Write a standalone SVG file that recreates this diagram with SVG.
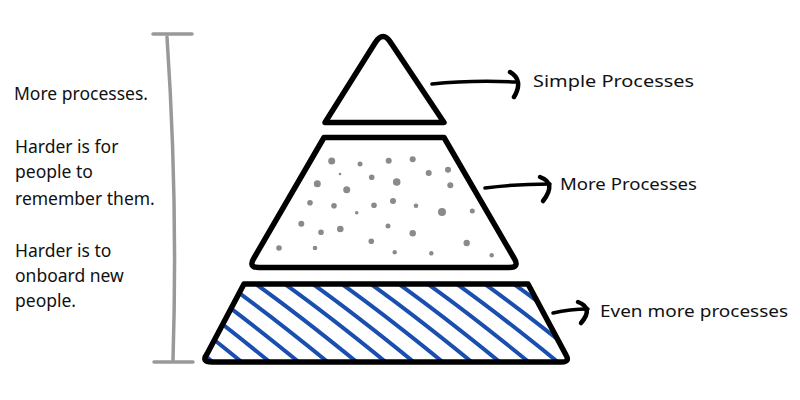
<svg xmlns="http://www.w3.org/2000/svg" width="800" height="400" viewBox="0 0 800 400">
<style>
.tier{fill:#fff;stroke:#000;stroke-width:5.5;stroke-linejoin:round}
.dot{fill:#8a8a8a}
.hatch{stroke:#1a4fb0;stroke-width:4;stroke-linecap:round;fill:none}
.txt{font-family:"Noto Sans","DejaVu Sans",sans-serif;font-size:17.5px;fill:#111}
.lbl{font-family:"Noto Sans","DejaVu Sans",sans-serif;font-size:16px;fill:#111}
.arr{stroke:#000;stroke-width:3.5;fill:none;stroke-linecap:round;stroke-linejoin:round}
.head{stroke:#000;stroke-width:4.5;fill:none;stroke-linecap:round}
.br{stroke:#999;stroke-width:3.5;fill:none;stroke-linecap:round}
</style>
<defs>
<clipPath id="clipBottom">
<path d="M244,284 L528,284 L566,355 Q570,362 562,362 L212,362 Q201,362 207,354 Z"/>
</clipPath>
</defs>
<rect width="800" height="400" fill="#fff"/>

<g id="bracket">
<path class="br" d="M153,34 L192,34"/>
<path class="br" d="M167,37 Q178,200 173,360"/>
<path class="br" d="M154,362 L193,362"/>
</g>

<g id="left-text" class="txt">
<text x="14" y="100">More processes.</text>
<text x="15" y="153">Harder is for</text>
<text x="15" y="178">people to</text>
<text x="15" y="205">remember them.</text>
<text x="15" y="257">Harder is to</text>
<text x="15" y="282">onboard new</text>
<text x="15" y="307">people.</text>
</g>

<g id="tier-top">
<path class="tier" d="M325,122.5 L375,43 Q383,30 391,43 L444,122.5 Z"/>
</g>

<g id="tier-middle">
<path class="tier" d="M324,137.5 L444,137.5 L514,258 Q520,267.5 509,267.5 L259,267.5 Q248,267.5 254,258 Z"/>
<g class="dot">
<circle cx="331.7" cy="161" r="3.5"/><circle cx="360" cy="164" r="2.5"/><circle cx="388.7" cy="160.7" r="3"/><circle cx="412.7" cy="159.3" r="3"/>
<circle cx="340" cy="174" r="1.3"/><circle cx="371.7" cy="177.3" r="2.8"/><circle cx="428.7" cy="173" r="3"/><circle cx="448" cy="169.7" r="3"/>
<circle cx="317.3" cy="183.7" r="3.5"/><circle cx="346.7" cy="189.7" r="3.5"/><circle cx="396.7" cy="182" r="3.8"/><circle cx="450.3" cy="185.3" r="3"/>
<circle cx="310" cy="202.7" r="2.8"/><circle cx="334" cy="205.7" r="2.8"/><circle cx="356.7" cy="212.7" r="1.8"/><circle cx="374" cy="205.3" r="2.8"/>
<circle cx="393" cy="201" r="3"/><circle cx="416" cy="205.7" r="2.3"/><circle cx="442" cy="212" r="4"/><circle cx="472.3" cy="211" r="2.5"/>
<circle cx="301.3" cy="223.7" r="3"/><circle cx="321" cy="232.3" r="2.8"/><circle cx="340.3" cy="229" r="3.3"/><circle cx="388" cy="226" r="2.5"/>
<circle cx="412.7" cy="233.3" r="3.2"/><circle cx="279" cy="248" r="2.8"/><circle cx="315" cy="248" r="2.3"/><circle cx="371.3" cy="241.3" r="2.8"/>
<circle cx="394.7" cy="252.3" r="2.2"/><circle cx="431.3" cy="253.3" r="2.2"/><circle cx="466.7" cy="243" r="3.2"/><circle cx="491.7" cy="255.3" r="2.2"/>
</g>
</g>

<g id="tier-bottom">
<path d="M244,284 L528,284 L566,355 Q570,362 562,362 L212,362 Q201,362 207,354 Z" fill="#fff"/>
<g clip-path="url(#clipBottom)" class="hatch">
<path d="M80,282 Q125,314 185,363"/><path d="M109,282 Q154,314 214,363"/><path d="M138,282 Q183,314 243,363"/>
<path d="M166,282 Q211,314 271,363"/><path d="M195,282 Q240,314 300,363"/><path d="M224,282 Q269,314 329,363"/>
<path d="M253,282 Q298,314 358,363"/><path d="M282,282 Q327,314 387,363"/><path d="M310,282 Q355,314 415,363"/>
<path d="M339,282 Q384,314 444,363"/><path d="M368,282 Q413,314 473,363"/><path d="M396,282 Q441,314 501,363"/>
<path d="M425,282 Q470,314 530,363"/><path d="M454,282 Q499,314 559,363"/><path d="M482,282 Q527,314 587,363"/>
<path d="M511,282 Q556,314 616,363"/>
</g>
<path class="tier" style="fill:none" d="M244,284 L528,284 L566,355 Q570,362 562,362 L212,362 Q201,362 207,354 Z"/>
</g>

<g id="connectors">
<path class="arr" d="M432,84 Q470,80 517,82"/>
<path class="head" d="M510,72 Q524,80 514,97"/>
<path class="arr" d="M485,188 Q515,184 550,184"/>
<path class="head" d="M540,177 Q557,183 543,201"/>
<path class="arr" d="M553,313 Q570,309 588,309"/>
<path class="head" d="M578,302 Q594,308 581,323"/>
</g>

<g id="labels" class="lbl">
<text x="533" y="87" textLength="161" lengthAdjust="spacingAndGlyphs">Simple Processes</text>
<text x="560" y="190" textLength="137" lengthAdjust="spacingAndGlyphs">More Processes</text>
<text x="600" y="317" textLength="188" lengthAdjust="spacingAndGlyphs">Even more processes</text>
</g>
</svg>
